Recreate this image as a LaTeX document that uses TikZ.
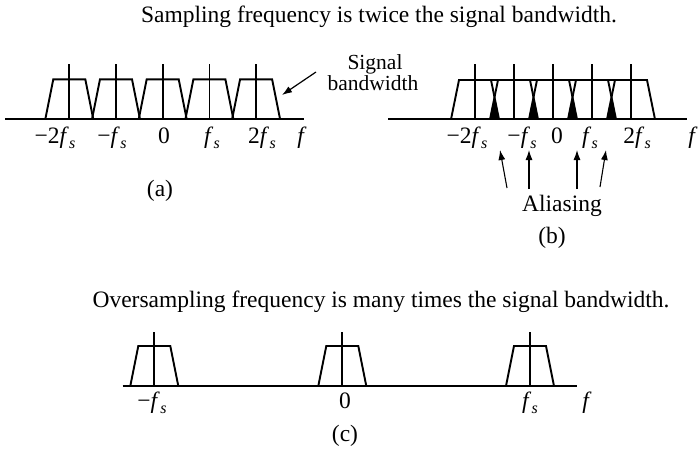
\documentclass[tikz,border=0pt]{standalone}
\usepackage{fontspec}
\setmainfont{Liberation Serif}
\usetikzlibrary{arrows.meta}
\newcommand{\fsub}{\textit{f}\kern0.3pt\raisebox{-0.22em}{\fontsize{16}{16}\selectfont\textit{s}}}
\begin{document}
\begin{tikzpicture}[x=1pt,y=-1pt,
  lbl/.style={font=\fontsize{23.5}{26}\selectfont, inner sep=0pt, anchor=base},
  sbl/.style={font=\fontsize{21.5}{24}\selectfont, inner sep=0pt, anchor=base},
  curve/.style={line width=1.9pt, line join=miter},
  tick/.style={line width=1.8pt},
  axisline/.style={line width=1.9pt},
  alarrow/.style={line width=1.1pt, -{Latex[length=10pt,width=7pt]}},
]
\useasboundingbox (0,0) rectangle (698,452);

% titles
\node[lbl] (t1) at (379,22.5) {Sampling frequency is twice the signal bandwidth.};
\node[lbl] (t2) at (381,307) {Oversampling frequency is many times the signal bandwidth.};

% ---------- panel (a)
\draw[axisline] (5,119.3) -- (304,119.3);
\foreach \cx in {69.3,116,162.7,209.4,256.1} {
  \draw[curve] (\cx-24,119.3) -- (\cx-16,79.3) -- (\cx+16,79.3) -- (\cx+24,119.3);
  \draw[tick] (\cx,119.3) -- (\cx,64);
}
\node[lbl] (am2) at (55,143.5) {−2\fsub};
\node[lbl] (am1) at (112,143.5) {−\fsub};
\node[lbl] (a0)  at (164,143.5) {0};
\node[lbl] (ap1) at (212,143.5) {\fsub};
\node[lbl] (ap2) at (262,143.5) {2\fsub};
\node[lbl] (af)  at (302,143.5) {\textit{f}};
\node[lbl] (alab) at (160,196) {(a)};

\node[sbl] (sig1) at (375,69) {Signal};
\node[sbl] (sig2) at (373,90) {bandwidth};
\coordinate (sa) at (316,72);
\coordinate (sb) at (282,95);
\draw[line width=1.2pt, -{Latex[length=10pt,width=7pt]}] (sa) -- (sb);

% ---------- panel (b)
\draw[axisline] (388,119.3) -- (687,119.3);
\draw[curve] (451,119.3) -- (459,80) -- (647,80) -- (655,119.3);
\foreach \cx in {475,514,553,592} {
  \fill (\cx+15,119.3) -- (\cx+19.5,97.2) -- (\cx+24,119.3) -- cycle;
  \draw[curve] (\cx+16,80) -- (\cx+24,119.3);
  \draw[curve] (\cx+23,80) -- (\cx+15,119.3);
}
\foreach \cx in {475,514,553,592,631} {
  \draw[tick] (\cx,119.3) -- (\cx,64);
}
\node[lbl] (bm2) at (467,143.5) {−2\fsub};
\node[lbl] (bm1) at (522,143.5) {−\fsub};
\node[lbl] (b0)  at (557,143.5) {0};
\node[lbl] (bp1) at (590,143.5) {\fsub};
\node[lbl] (bp2) at (637,143.5) {2\fsub};
\node[lbl] (bf)  at (693,143.5) {\textit{f}};

\node[lbl] (alias) at (562,211.5) {Aliasing};
\coordinate (al1t) at (507,188);
\coordinate (al2t) at (529,189);
\coordinate (al3t) at (577,189);
\coordinate (al4t) at (600,187);
\coordinate (al1h) at (500,150);
\coordinate (al2h) at (529,150);
\coordinate (al3h) at (577,150);
\coordinate (al4h) at (606,150);
\draw[alarrow] (al1t) -- (al1h);
\draw[alarrow] (al2t) -- (al2h);
\draw[alarrow] (al3t) -- (al3h);
\draw[alarrow] (al4t) -- (al4h);
\node[lbl] (blab) at (552,243) {(b)};

% ---------- panel (c)
\draw[axisline] (122.7,386) -- (576.7,386);
\foreach \cx in {154.3,342.3,530} {
  \draw[curve] (\cx-24,386) -- (\cx-16,346) -- (\cx+16,346) -- (\cx+24,386);
  \draw[tick] (\cx,386) -- (\cx,331.7);
}
\node[lbl] (cm1) at (152,408) {−\fsub};
\node[lbl] (c0)  at (345,408) {0};
\node[lbl] (cp1) at (530,408) {\fsub};
\node[lbl] (cf)  at (587,408) {\textit{f}};
\node[lbl] (clab) at (345,441) {(c)};
\end{tikzpicture}
\end{document}
